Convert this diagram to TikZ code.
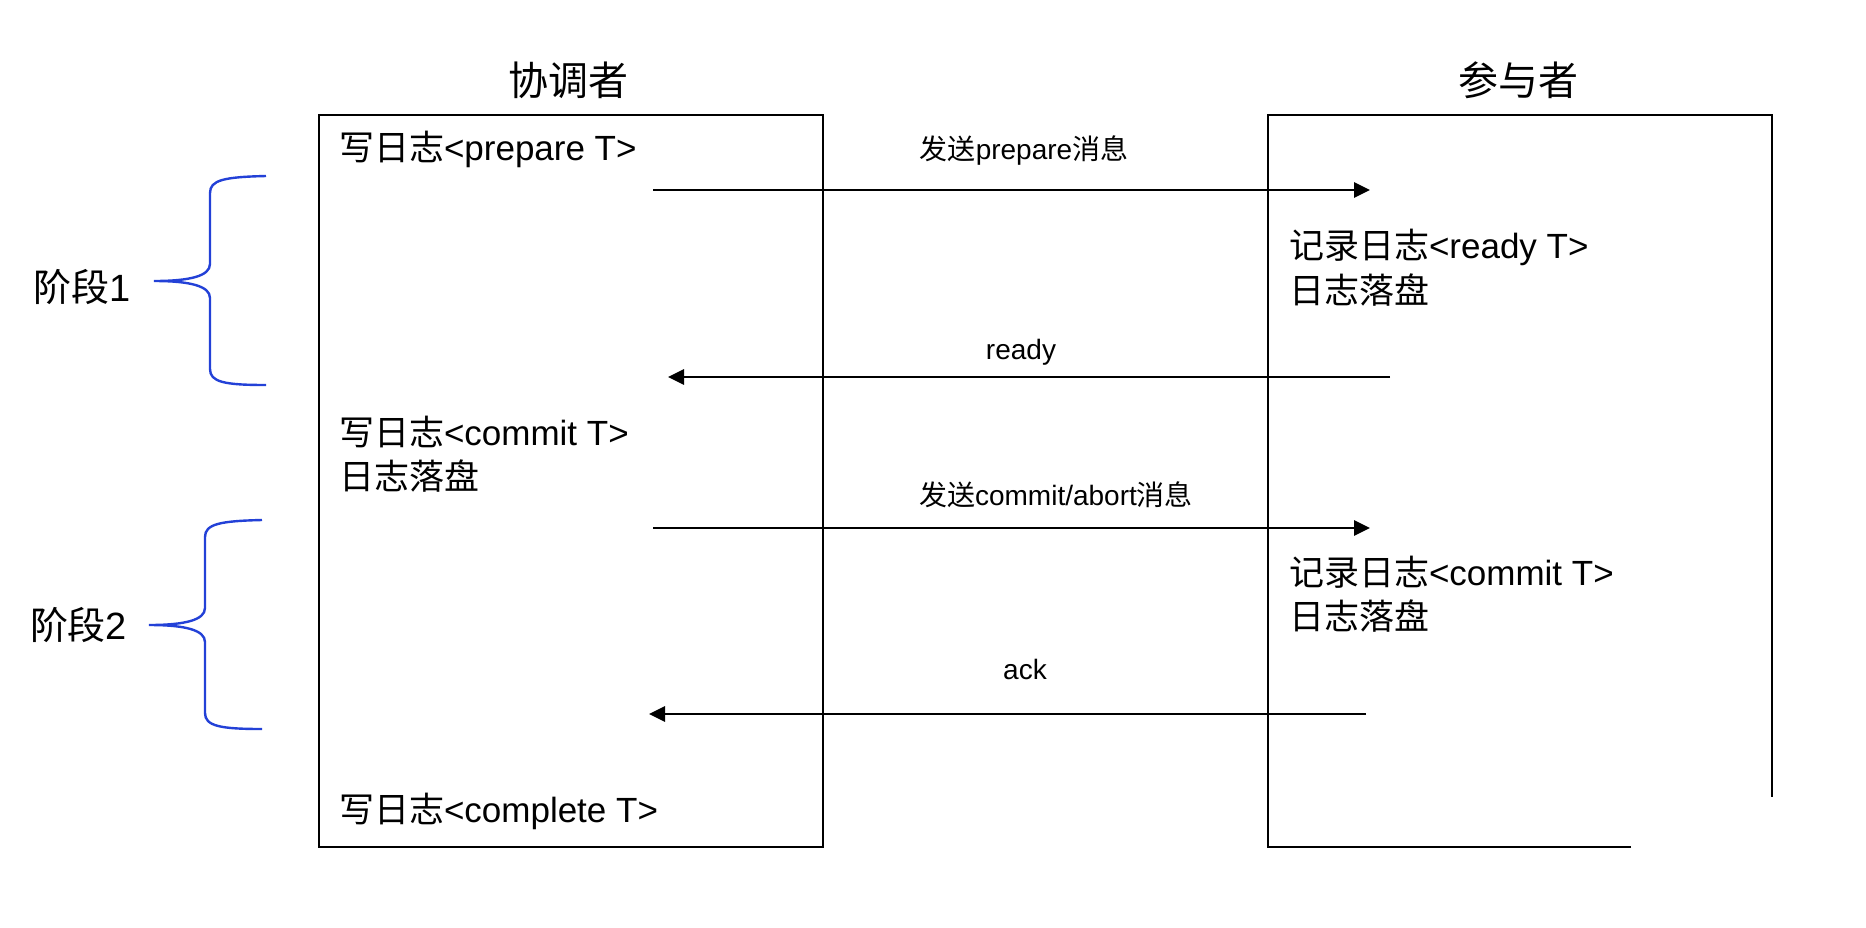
\documentclass[tikz,border=0pt]{standalone}
\usepackage{fontspec}
\setmainfont{Liberation Sans}
\newfontfamily\cjk{Noto Sans CJK SC}
\newcommand{\zh}[1]{{\cjk #1}}
\usetikzlibrary{arrows.meta}
\definecolor{braceblue}{RGB}{35,65,215}
\begin{document}
\begin{tikzpicture}[x=1pt,y=-1pt,
  every node/.style={inner sep=0pt, outer sep=0pt},
  boxline/.style={line width=2.3pt, black},
  msg/.style={line width=2.8pt, -{Triangle[length=16pt,width=15pt]}},
  brace/.style={line width=2.4pt, draw=braceblue},
  title/.style={font=\fontsize{40}{48}\selectfont, anchor=base},
  body/.style={font=\fontsize{35}{44}\selectfont, anchor=base west},
  lbl/.style={font=\fontsize{28}{34}\selectfont, anchor=base},
  phase/.style={font=\fontsize{38}{46}\selectfont, anchor=base west}]
\useasboundingbox (0,0) rectangle (1866,927);

% titles
\node[title] (tc) at (568,95) {\zh{协调者}};
\node[title] (tp) at (1518,95) {\zh{参与者}};

% boxes
\draw[boxline] (319,115) rectangle (823,847);
\draw[boxline] (1631,847) -- (1268,847) -- (1268,115) -- (1772,115) -- (1772,797);

% coordinator texts
\node[body] (c1) at (339,160) {\zh{写日志}<prepare T>};
\node[body] (c2) at (339,445) {\zh{写日志}<commit T>};
\node[body] (c3) at (339,489) {\zh{日志落盘}};
\node[body] (c4) at (339,822) {\zh{写日志}<complete T>};

% participant texts
\node[body] (p1) at (1289,258) {\zh{记录日志}<ready T>};
\node[body] (p2) at (1289,303) {\zh{日志落盘}};
\node[body] (p3) at (1289,585) {\zh{记录日志}<commit T>};
\node[body] (p4) at (1289,629) {\zh{日志落盘}};

% message labels
\node[lbl] (l1) at (1024,159) {\zh{发送}prepare\zh{消息}};
\node[lbl] (l2) at (1021,359) {ready};
\node[lbl] (l3) at (1056,505) {\zh{发送}commit/abort\zh{消息}};
\node[lbl] (l4) at (1025,679) {ack};

% arrow endpoints
\coordinate (m1s) at (653,190);  \coordinate (m1e) at (1370,190);
\coordinate (m2s) at (1390,377); \coordinate (m2e) at (668,377);
\coordinate (m3s) at (653,528);  \coordinate (m3e) at (1370,528);
\coordinate (m4s) at (1366,714); \coordinate (m4e) at (649,714);
\draw[msg] (m1s) -- (m1e);
\draw[msg] (m2s) -- (m2e);
\draw[msg] (m3s) -- (m3e);
\draw[msg] (m4s) -- (m4e);

% phase labels
\node[phase] (ph1) at (33,301) {\zh{阶段}1};
\node[phase] (ph2) at (30,639) {\zh{阶段}2};

% braces
\draw[brace] (266,176) .. controls (224,177) and (210,180) .. (210,193)
  -- (210,264) .. controls (210,276) and (190,281) .. (154,281)
  .. controls (190,281) and (210,286) .. (210,298)
  -- (210,369) .. controls (210,382) and (224,385) .. (266,385);
\draw[brace] (262,520) .. controls (220,521) and (205,524) .. (205,537)
  -- (205,608) .. controls (205,620) and (185,625) .. (149,625)
  .. controls (185,625) and (205,630) .. (205,642)
  -- (205,713) .. controls (205,726) and (220,729) .. (262,729);
\end{tikzpicture}
\end{document}
